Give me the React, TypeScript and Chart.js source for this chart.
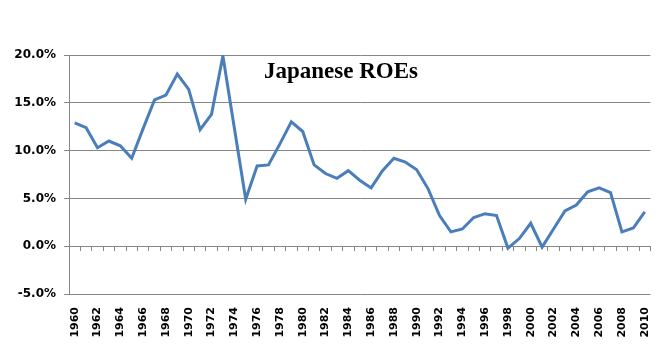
import React, { useEffect, useRef } from "react";
import { Chart, registerables } from "chart.js";

Chart.register(...registerables);

const years: string[] = [
  "1960", "1961", "1962", "1963", "1964", "1965", "1966", "1967", "1968", "1969",
  "1970", "1971", "1972", "1973", "1974", "1975", "1976", "1977", "1978", "1979",
  "1980", "1981", "1982", "1983", "1984", "1985", "1986", "1987", "1988", "1989",
  "1990", "1991", "1992", "1993", "1994", "1995", "1996", "1997", "1998", "1999",
  "2000", "2001", "2002", "2003", "2004", "2005", "2006", "2007", "2008", "2009",
  "2010",
];

const roe: number[] = [
  12.9, 12.4, 10.3, 11.0, 10.5, 9.2, 12.3, 15.3, 15.8, 18.0,
  16.4, 12.2, 13.8, 19.9, 12.4, 4.9, 8.4, 8.5, 10.7, 13.0,
  12.0, 8.5, 7.6, 7.1, 7.9, 6.9, 6.1, 7.9, 9.2, 8.8,
  8.0, 6.0, 3.2, 1.5, 1.8, 3.0, 3.4, 3.2, -0.2, 0.8,
  2.4, -0.1, 1.8, 3.7, 4.3, 5.7, 6.1, 5.6, 1.5, 1.9,
  3.6,
];

const chartTitle = "Japanese ROEs";
const yMin = -5;
const yMax = 20;
const yStep = 5;

const GRID = "#878787";

const titlePlugin = {
  id: "innerTitle",
  afterDraw(chart: any) {
    const ctx = chart.ctx;
    ctx.save();
    ctx.font = "bold 23px 'Liberation Serif', 'Times New Roman', serif";
    ctx.fillStyle = "#000";
    ctx.textAlign = "center";
    ctx.textBaseline = "alphabetic";
    ctx.fillText(chartTitle, 333, 70);
    ctx.restore();
  },
};

export default function App() {
  const ref = useRef<HTMLCanvasElement | null>(null);

  useEffect(() => {
    if (!ref.current) return;
    const chart = new Chart(ref.current, {
      type: "line",
      data: {
        labels: years,
        datasets: [
          {
            label: "ROE",
            data: roe,
            borderColor: "#4A7EBB",
            backgroundColor: "#4A7EBB",
            borderWidth: 3,
            pointRadius: 0,
            tension: 0,
            xAxisID: "x",
          },
        ],
      },
      options: {
        animation: false,
        responsive: false,
        devicePixelRatio: 1,
        layout: { padding: { left: 7, right: 7, top: 47, bottom: 7 } },
        plugins: {
          legend: { display: false },
          tooltip: { enabled: false },
          title: { display: false },
        },
        scales: {
          x: {
            type: "category",
            position: "bottom",
            offset: true,
            grid: {
              display: true,
              drawOnChartArea: false,
              drawTicks: true,
              tickLength: 13,
              color: "rgba(0,0,0,0)",
            },
            border: { display: false },
            ticks: {
              autoSkip: false,
              minRotation: 90,
              maxRotation: 90,
              padding: 0,
              color: "#000",
              font: { family: "'DejaVu Sans'", size: 11, weight: "bold" },
              callback: (_v: any, i: number) => (i % 2 === 0 ? years[i] : ""),
            },
            afterFit: (scale: any) => {
              scale.height = 44;
            },
          },
          x2: {
            type: "category",
            position: { y: 0 } as any,
            offset: true,
            grid: {
              offset: true,
              drawOnChartArea: false,
              drawTicks: true,
              tickLength: 4,
              color: GRID,
              lineWidth: 1,
            },
            border: { display: true, color: GRID, width: 1 },
            ticks: { display: false },
          },
          y: {
            min: yMin,
            max: yMax,
            grid: { color: GRID, lineWidth: 1, tickLength: 5 },
            border: { display: true, color: GRID, width: 1 },
            ticks: {
              stepSize: yStep,
              padding: 8,
              color: "#000",
              font: { family: "'DejaVu Sans'", size: 12, weight: "bold" },
              callback: (v: any) => Number(v).toFixed(1) + "%",
            },
            afterFit: (scale: any) => {
              scale.width = 54;
            },
          },
        },
      },
      plugins: [titlePlugin],
    });
    return () => chart.destroy();
  }, []);

  return (
    <div style={{ width: 650, height: 337 }}>
      <canvas ref={ref} width={650} height={337} />
    </div>
  );
}
